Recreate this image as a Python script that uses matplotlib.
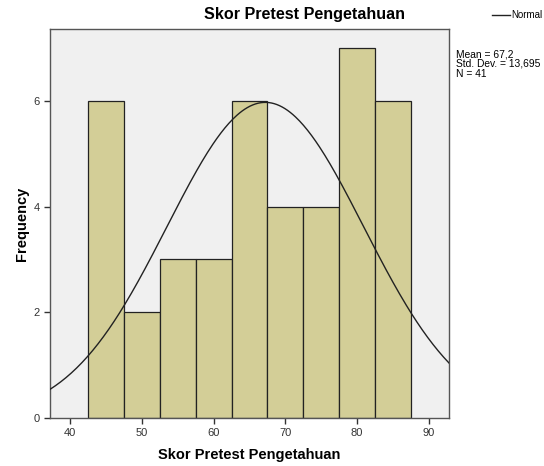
import numpy as np
import matplotlib
matplotlib.use("Agg")
import matplotlib.pyplot as plt

plt.rcParams['font.family'] = ['Liberation Sans', 'DejaVu Sans']

# Histogram data (bin edges and counts)
bin_edges = [42.5, 47.5, 52.5, 57.5, 62.5, 67.5, 72.5, 77.5, 82.5, 87.5]
counts = [6, 2, 3, 3, 6, 4, 4, 7, 6]
mean = 67.2
std = 13.695
n = 41
xticks = [40, 50, 60, 70, 80, 90]
yticks = [0, 2, 4, 6]

fig = plt.figure(figsize=(5.44, 4.66), dpi=100)
ax = fig.add_axes([50 / 544, 1 - 418 / 466, 399 / 544, 389 / 466])
ax.set_facecolor('#f0f0f0')

widths = np.diff(bin_edges)
ax.bar(bin_edges[:-1], counts, width=widths, align='edge',
       color='#d3ce97', edgecolor='#222222', linewidth=0.9, zorder=2)

# Normal curve scaled to counts
xs = np.linspace(37.2, 92.8, 300)
ys = n * 5 * np.exp(-0.5 * ((xs - mean) / std) ** 2) / (std * np.sqrt(2 * np.pi))
ax.plot(xs, ys, color='#222222', linewidth=1.0, zorder=3)

ax.set_xlim(37.2, 92.8)
ax.set_ylim(0, 7.36)
ax.set_xticks(xticks)
ax.set_yticks(yticks)
ax.tick_params(direction='out', length=4, width=1, colors='#333333', labelsize=8)
for s in ax.spines.values():
    s.set_color('#555555')
    s.set_linewidth(1)

ax.set_xlabel('Skor Pretest Pengetahuan', fontsize=10.5, fontweight='bold', labelpad=7)
ax.set_ylabel('Frequency', fontsize=10.5, fontweight='bold', labelpad=3)

fig.text(305 / 544, 1 - 15 / 466, 'Skor Pretest Pengetahuan', ha='center', va='center',
         fontsize=11.6, fontweight='bold')

# legend for normal curve
fig.add_artist(plt.Line2D([492 / 544, 510 / 544], [1 - 15 / 466, 1 - 15 / 466],
                          color='#222222', linewidth=1))
fig.text(511 / 544, 1 - 15 / 466, 'Normal', ha='left', va='center', fontsize=7)

fig.text(456 / 544, 1 - 64 / 466,
         'Mean = 67,2\nStd. Dev. = 13,695\nN = 41',
         ha='left', va='center', fontsize=7.4, linespacing=0.95)

plt.savefig('out.png', dpi=100)
